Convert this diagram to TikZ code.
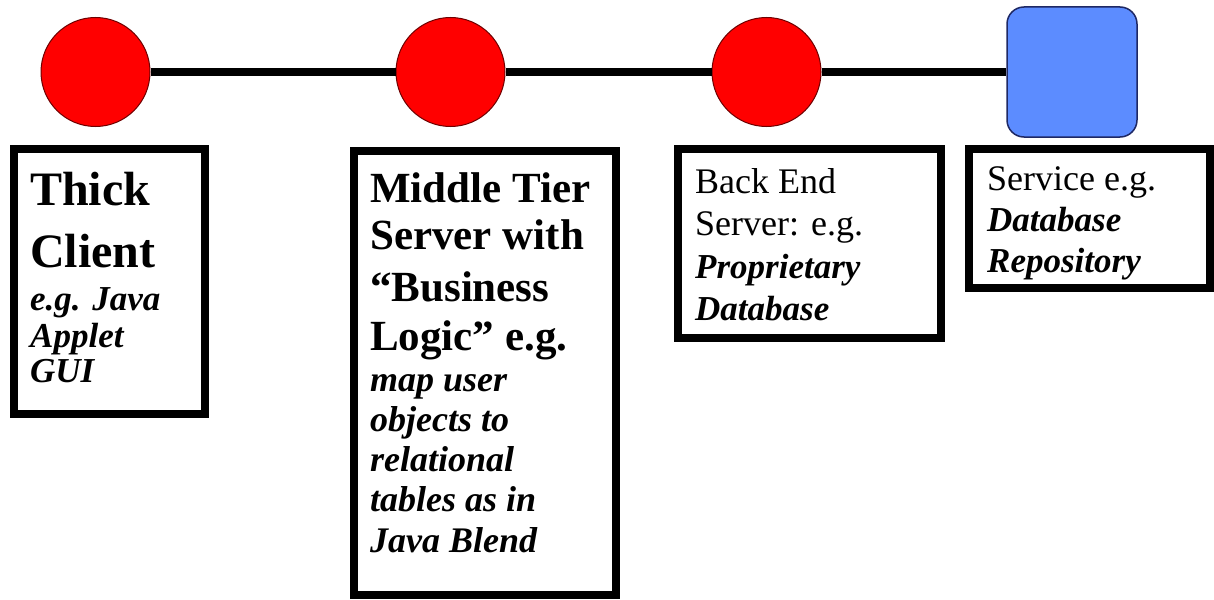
\documentclass[tikz,border=0pt]{standalone}
\usepackage{fontspec}
\setmainfont{Liberation Serif}
\definecolor{tierred}{RGB}{255,0,0}
\definecolor{tieredge}{RGB}{110,0,0}
\definecolor{svcblue}{RGB}{92,140,255}
\definecolor{svcedge}{RGB}{30,40,100}
\tikzset{
  tier/.style={circle, fill=tierred, draw=tieredge, line width=1pt, minimum size=109pt, inner sep=0pt},
  svc/.style={rectangle, rounded corners=17pt, fill=svcblue, draw=svcedge, line width=1.5pt, minimum size=130pt, inner sep=0pt},
  bus/.style={line width=8pt},
  panel/.style={rectangle, draw=black, line width=8pt, inner sep=0pt},
  txtline/.style={anchor=base west, inner sep=0pt},
  bighead/.style={txtline, font=\fontsize{48}{58}\selectfont\bfseries},
  midhead/.style={txtline, font=\fontsize{43}{51}\selectfont\bfseries},
  plainhead/.style={txtline, font=\fontsize{36}{42}\selectfont},
  example/.style={txtline, font=\fontsize{35}{41}\selectfont\bfseries\itshape},
  bigexample/.style={txtline, font=\fontsize{36}{41}\selectfont\bfseries\itshape}
}
\begin{document}
\begin{tikzpicture}[x=1pt, y=-1pt]
  \useasboundingbox (0,0) rectangle (1214,599);

  % the four tiers along the bus line
  \node[tier] (client) at (95.5,72) {};
  \node[tier] (middle) at (450.5,72) {};
  \node[tier] (backend) at (766.5,72) {};
  \node[svc]  (service) at (1072,72) {};

  \draw[bus] (client) -- (middle);
  \draw[bus] (middle) -- (backend);
  \draw[bus] (backend) -- (service);

  % framed descriptions below each tier
  \node[panel, minimum width=191pt, minimum height=265pt] (clientbox) at (109.5,281.5) {};
  \node[panel, minimum width=262pt, minimum height=444pt] (middlebox) at (485,373) {};
  \node[panel, minimum width=263pt, minimum height=189pt] (backendbox) at (809.5,243.5) {};
  \node[panel, minimum width=240.5pt, minimum height=139pt] (servicebox) at (1089.25,218.5) {};

  % thick client
  \node[bighead] (c1) at (30,205) {Thick};
  \node[bighead] (c2) at (30,267) {Client};
  \node[example] (c3) at (30,310) {e.g. Java};
  \node[example] (c4) at (30,347) {Applet};
  \node[example] (c5) at (30,382) {GUI};

  % middle tier
  \node[midhead] (m1) at (370,202) {Middle Tier};
  \node[midhead] (m2) at (370,249) {Server with};
  \node[midhead] (m3) at (370,301) {“Business};
  \node[midhead] (m4) at (370,350) {Logic” e.g.};
  \node[bigexample] (m5) at (370,391) {map user};
  \node[bigexample] (m6) at (370,431) {objects to};
  \node[bigexample] (m7) at (370,471) {relational};
  \node[bigexample] (m8) at (370,511) {tables as in};
  \node[bigexample] (m9) at (370,552) {Java Blend};

  % back end server
  \node[plainhead] (b1) at (695,193) {Back End};
  \node[plainhead] (b2) at (695,235) {Server: e.g.};
  \node[example]   (b3) at (695,278) {Proprietary};
  \node[example]   (b4) at (695,320) {Database};

  % service
  \node[plainhead] (s1) at (987,190) {Service e.g.};
  \node[example]   (s2) at (987,231) {Database};
  \node[example]   (s3) at (987,272) {Repository};
\end{tikzpicture}
\end{document}
